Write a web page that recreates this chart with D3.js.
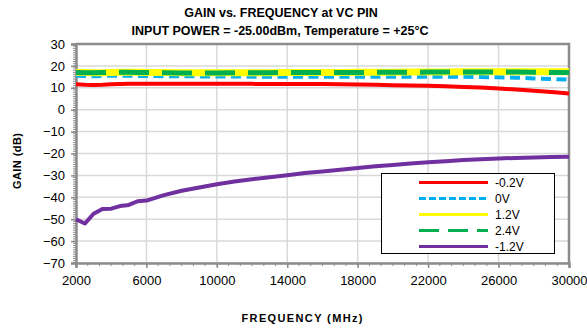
<!DOCTYPE html>
<html>
<head>
<meta charset="utf-8">
<script src="https://cdn.jsdelivr.net/npm/d3@7.9.0/dist/d3.min.js"></script>
<style>
  body { margin: 0; background: #fff; }
  svg { display: block; font-family: "Liberation Sans", Arial, sans-serif; }
</style>
</head>
<body>
<svg id="chart" width="587" height="330"></svg>
<script>
// frequency points (MHz)
const freqs = [2000, 2500, 3000, 3500, 4000, 4500, 5000, 5500, 6000,
  7000, 8000, 9000, 10000, 11000, 12000, 13000, 14000, 15000, 16000,
  17000, 18000, 19000, 20000, 21000, 22000, 23000, 24000, 25000, 26000,
  27000, 28000, 29000, 30000];

// gain (dB) per VC setting
const gainNeg02 = [11.6, 11.4, 11.3, 11.4, 11.6, 11.7, 11.8, 11.8, 11.8,
  11.8, 11.8, 11.8, 11.8, 11.8, 11.8, 11.7, 11.7, 11.7, 11.7,
  11.6, 11.5, 11.4, 11.2, 11.1, 10.9, 10.7, 10.4, 10.1, 9.7,
  9.2, 8.7, 8.1, 7.4];
const gain0 = [15.5, 15.4, 15.3, 15.4, 15.5, 15.5, 15.5, 15.4, 15.4,
  15.3, 15.3, 15.2, 15.2, 15.2, 15.1, 15.1, 15.1, 15.1, 15.1,
  15.1, 15.1, 15.1, 15.1, 15.1, 15.0, 15.0, 15.0, 14.9, 14.8,
  14.6, 14.3, 14.0, 13.7];
const gain12 = [17.1, 17.0, 16.9, 16.9, 17.0, 17.1, 17.1, 17.1, 17.0,
  17.0, 16.9, 16.9, 16.9, 16.9, 16.9, 16.9, 17.0, 17.0, 17.0,
  17.0, 17.1, 17.1, 17.1, 17.2, 17.2, 17.2, 17.3, 17.3, 17.3,
  17.3, 17.3, 17.3, 17.3];
const gain24 = [17.0, 16.9, 16.9, 17.0, 17.1, 17.1, 17.1, 17.0, 17.0,
  16.9, 16.8, 16.8, 16.8, 16.9, 16.9, 16.9, 17.0, 17.0, 17.0,
  17.0, 17.0, 17.1, 17.1, 17.1, 17.2, 17.2, 17.2, 17.2, 17.2,
  17.2, 17.1, 17.0, 17.0];
const gainNeg12 = [-50, -52, -47.5, -45.3, -45.2, -44, -43.5, -41.8, -41.5,
  -39, -37, -35.5, -34, -32.8, -31.8, -30.8, -29.9, -28.9, -28.2,
  -27.4, -26.6, -25.8, -25.2, -24.6, -24, -23.5, -23, -22.6, -22.3,
  -22, -21.8, -21.6, -21.5];

const xTicks = [2000, 6000, 10000, 14000, 18000, 22000, 26000, 30000];
const yTicks = [30, 20, 10, 0, -10, -20, -30, -40, -50, -60, -70];

// drawing order: yellow under green, legend order separate
const series = [
  { name: "-1.2V", values: gainNeg12, color: "#7030A0", width: 4, dash: null },
  { name: "-0.2V", values: gainNeg02, color: "#FF0000", width: 4, dash: null },
  { name: "0V", values: gain0, color: "#00B0F0", width: 4, dash: "10,5.5" },
  { name: "1.2V", values: gain12, color: "#FFFF00", width: 7, dash: null },
  { name: "2.4V", values: gain24, color: "#00B050", width: 5, dash: "30,13" }
];
const legendOrder = ["-0.2V", "0V", "1.2V", "2.4V", "-1.2V"];
const legendDash = { "0V": "7,3", "2.4V": "20,9" };

const plotL = 76, plotR = 569, plotT = 44, plotB = 263;
const svg = d3.select("#chart");

const x = d3.scaleLinear().domain([2000, 30000]).range([plotL, plotR]);
const y = d3.scaleLinear().domain([-70, 30]).range([plotB, plotT]);

// gridlines
svg.append("g").selectAll("line").data(yTicks).join("line")
  .attr("x1", plotL).attr("x2", plotR)
  .attr("y1", d => y(d)).attr("y2", d => y(d))
  .attr("stroke", "#d9d9d9").attr("stroke-width", 1.5);
svg.append("g").selectAll("line").data(xTicks).join("line")
  .attr("y1", plotT).attr("y2", plotB)
  .attr("x1", d => x(d)).attr("x2", d => x(d))
  .attr("stroke", "#d9d9d9").attr("stroke-width", 1.5);

// top and right frame
svg.append("path")
  .attr("d", `M${plotL},${plotT}H${plotR}V${plotB}`)
  .attr("fill", "none").attr("stroke", "#8c8c8c").attr("stroke-width", 2.5);

// minor ticks
const yMinor = d3.range(-70, 30.01, 1);
svg.append("g").selectAll("line").data(yMinor).join("line")
  .attr("x1", plotL - 3).attr("x2", plotL)
  .attr("y1", d => y(d)).attr("y2", d => y(d))
  .attr("stroke", "#8c8c8c").attr("stroke-width", 1);
const xMinor = d3.range(2000, 30001, 4000 / 6);
svg.append("g").selectAll("line").data(xMinor).join("line")
  .attr("y1", plotB).attr("y2", plotB + 3)
  .attr("x1", d => x(d)).attr("x2", d => x(d))
  .attr("stroke", "#8c8c8c").attr("stroke-width", 1);

// axes
const yAxis = svg.append("g").attr("transform", `translate(${plotL},0)`)
  .call(d3.axisLeft(y).tickValues(yTicks).tickSize(5).tickPadding(6));
const xAxis = svg.append("g").attr("transform", `translate(0,${plotB})`)
  .call(d3.axisBottom(x).tickValues(xTicks).tickSize(5).tickPadding(8).tickFormat(d3.format("d")));
[yAxis, xAxis].forEach(g => {
  g.select(".domain").attr("stroke", "#8c8c8c").attr("stroke-width", 2.5);
  g.selectAll(".tick line").attr("stroke", "#8c8c8c").attr("stroke-width", 1.5);
  g.selectAll(".tick text").attr("fill", "#000").attr("font-size", 13)
    .attr("font-family", "Liberation Sans, Arial, sans-serif");
});

// lines
const line = d3.line().x((d, i) => x(freqs[i])).y(d => y(d));
series.forEach(s => {
  svg.append("path")
    .attr("d", line(s.values))
    .attr("fill", "none")
    .attr("stroke", s.color)
    .attr("stroke-width", s.width)
    .attr("stroke-linejoin", "round")
    .attr("stroke-dasharray", s.dash);
});

// legend
const lg = svg.append("g");
lg.append("rect").attr("x", 381.5).attr("y", 173.5).attr("width", 173).attr("height", 80)
  .attr("fill", "#fff").attr("stroke", "#000").attr("stroke-width", 1);
legendOrder.forEach((name, i) => {
  const s = series.find(d => d.name === name);
  const ly = 182.5 + i * 16;
  lg.append("line")
    .attr("x1", 419).attr("x2", 488).attr("y1", ly).attr("y2", ly)
    .attr("stroke", s.color).attr("stroke-width", 3)
    .attr("stroke-dasharray", legendDash[name] || null);
  lg.append("text").attr("x", 495).attr("y", ly + 4)
    .attr("font-size", 12).text(name);
});

// titles
svg.append("text").attr("x", 281).attr("y", 17).attr("text-anchor", "middle")
  .attr("font-weight", "bold").attr("font-size", 12.5)
  .text("GAIN vs. FREQUENCY at VC PIN");
svg.append("text").attr("x", 280).attr("y", 35).attr("text-anchor", "middle")
  .attr("font-weight", "bold").attr("font-size", 12.5)
  .text("INPUT POWER = -25.00dBm, Temperature = +25°C");
svg.append("text").attr("transform", "translate(21,161) rotate(-90)")
  .attr("text-anchor", "middle").attr("font-weight", "bold").attr("font-size", 11)
  .attr("textLength", 56).attr("lengthAdjust", "spacing")
  .text("GAIN (dB)");
svg.append("text").attr("x", 302).attr("y", 322).attr("text-anchor", "middle")
  .attr("font-weight", "bold").attr("font-size", 11)
  .attr("textLength", 121).attr("lengthAdjust", "spacing")
  .text("FREQUENCY (MHz)");
</script>
</body>
</html>
